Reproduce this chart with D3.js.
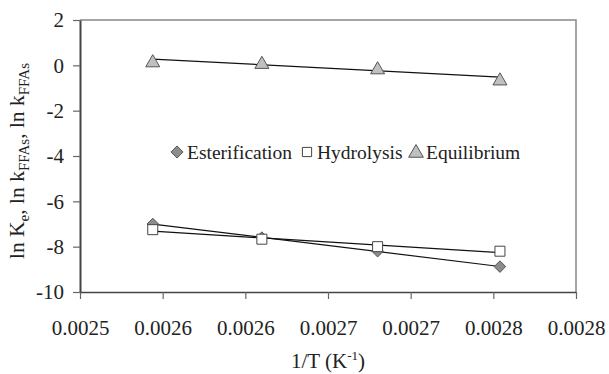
<!DOCTYPE html>
<html>
<head>
<meta charset="utf-8">
<script src="https://cdn.jsdelivr.net/npm/d3@7"></script>
<style>
  body { margin: 0; background: #fff; }
</style>
</head>
<body>
<svg id="chart"></svg>
<script>
// 1/T values (K^-1)
const invT = [0.002544, 0.002610, 0.002680, 0.002754]

// ln values per series
const esterification = [-7.0, -7.6, -8.2, -8.88]
const hydrolysis = [-7.25, -7.67, -8.0, -8.2]
const equilibrium = [0.18, 0.11, -0.13, -0.62]

const seriesNames = ["Esterification", "Hydrolysis", "Equilibrium"]

const xTickValues = [0.0025, 0.00255, 0.0026, 0.00265, 0.0027, 0.00275, 0.0028]
const xTickLabels = ["0.0025", "0.0026", "0.0026", "0.0027", "0.0027", "0.0028", "0.0028"]
const yTickValues = [2, 0, -2, -4, -6, -8, -10]

const FONT = '"Liberation Serif", "Times New Roman", Times, serif'

const width = 609, height = 374
const margin = {top: 20, right: 33, bottom: 82, left: 80}

const svg = d3.select("#chart")
  .attr("width", width)
  .attr("height", height)

const x = d3.scaleLinear()
  .domain([0.0025, 0.0028])
  .range([margin.left, width - margin.right])

const y = d3.scaleLinear()
  .domain([-10, 2])
  .range([height - margin.bottom, margin.top])

// frame (top + right)
svg.append("path")
  .attr("d", `M${x(0.0025)},${y(2)}H${x(0.0028)}V${y(-10)}`)
  .attr("fill", "none")
  .attr("stroke", "#888")
  .attr("stroke-width", 1.5)

// axes
const xAxis = g => g
  .attr("transform", `translate(0,${y(-10)})`)
  .call(d3.axisBottom(x)
    .tickValues(xTickValues)
    .tickFormat((d, i) => xTickLabels[i])
    .tickSize(7)
    .tickSizeOuter(0))
  .attr("font-family", null)
  .call(g => g.select(".domain").attr("stroke", "#444").attr("stroke-width", 1.5))
  .call(g => g.selectAll(".tick line").attr("stroke", "#666").attr("stroke-width", 1.2))
  .call(g => g.selectAll(".tick text")
    .attr("dy", "1.55em")
    .attr("fill", "#222")
    .style("font-family", FONT)
    .style("font-size", "21px"))

const yAxis = g => g
  .attr("transform", `translate(${x(0.0025)},0)`)
  .call(d3.axisLeft(y)
    .tickValues(yTickValues)
    .tickFormat(d3.format("d"))
    .tickSize(7)
    .tickSizeOuter(0))
  .attr("font-family", null)
  .call(g => g.select(".domain").attr("stroke", "#444").attr("stroke-width", 2))
  .call(g => g.selectAll(".tick line").attr("stroke", "#666").attr("stroke-width", 1.2))
  .call(g => g.selectAll(".tick text")
    .attr("x", -16)
    .attr("fill", "#222")
    .text(d => d < 0 ? "-" + Math.abs(d) : d)
    .style("font-family", FONT)
    .style("font-size", "21px"))

svg.append("g").call(xAxis)
svg.append("g").call(yAxis)
svg.selectAll(".domain").lower()

// least squares line
function fit(xs, ys) {
  const mx = d3.mean(xs), my = d3.mean(ys)
  const sxy = d3.sum(xs, (v, i) => (v - mx) * (ys[i] - my))
  const sxx = d3.sum(xs, v => (v - mx) * (v - mx))
  const b = sxy / sxx
  return v => my + b * (v - mx)
}

const seriesValues = [esterification, hydrolysis, equilibrium]
const line = d3.line().x(d => x(d[0])).y(d => y(d[1]))

seriesValues.forEach(vals => {
  const f = fit(invT, vals)
  const ends = d3.extent(invT)
  svg.append("path")
    .attr("d", line(ends.map(v => [v, f(v)])))
    .attr("fill", "none")
    .attr("stroke", "#111")
    .attr("stroke-width", 1.2)
})

// markers
const symbols = [
  {type: d3.symbolDiamond2, size: 85, fill: "#8c8c8c", stroke: "#555"},
  {type: d3.symbolSquare, size: 100, fill: "#fff", stroke: "#444"},
  {type: d3.symbolTriangle, size: 85, fill: "#c0c0c0", stroke: "#555"}
]

seriesValues.forEach((vals, s) => {
  const sym = symbols[s]
  svg.append("g")
    .selectAll("path")
    .data(vals.map((v, i) => [invT[i], v]))
    .enter().append("path")
    .attr("transform", d => `translate(${x(d[0])},${y(d[1]) + (s === 2 ? 1.5 : 0)})`)
    .attr("d", d3.symbol().type(sym.type).size(sym.size))
    .attr("fill", sym.fill)
    .attr("stroke", sym.stroke)
    .attr("stroke-width", 1)
})

// legend
const legendX = [177, 307, 416]
const legendY = 152
const legend = svg.append("g")
seriesNames.forEach((name, s) => {
  const sym = symbols[s]
  legend.append("path")
    .attr("transform", `translate(${legendX[s]},${legendY + (s === 2 ? 1 : 0)})`)
    .attr("d", d3.symbol().type(sym.type).size(s === 1 ? 85 : sym.size * 1.1))
    .attr("fill", sym.fill)
    .attr("stroke", sym.stroke)
    .attr("stroke-width", 1)
  legend.append("text")
    .attr("x", legendX[s] + 10)
    .attr("y", legendY + 7)
    .attr("fill", "#222")
    .style("font-family", FONT)
    .style("font-size", "19.5px")
    .text(name)
})

// axis titles
const xTitle = svg.append("text")
  .attr("x", (x(0.0025) + x(0.0028)) / 2)
  .attr("y", 368)
  .attr("text-anchor", "middle")
  .attr("fill", "#222")
  .style("font-family", FONT)
  .style("font-size", "21px")
xTitle.append("tspan").text("1/T (K")
xTitle.append("tspan").attr("dy", -8).style("font-size", "13px").text("-1")
xTitle.append("tspan").attr("dy", 8).text(")")

const yTitle = svg.append("text")
  .attr("transform", `translate(24,161) rotate(-90)`)
  .attr("text-anchor", "middle")
  .attr("fill", "#222")
  .style("font-family", FONT)
  .style("font-size", "21.5px")
yTitle.append("tspan").text("ln K")
yTitle.append("tspan").attr("dy", 5).style("font-size", "15px").text("e")
yTitle.append("tspan").attr("dy", -5).text(", ln k")
yTitle.append("tspan").attr("dy", 5).style("font-size", "15px").text("FFAs")
yTitle.append("tspan").attr("dy", -5).text(", ln k")
yTitle.append("tspan").attr("dy", 5).style("font-size", "15px").text("FFAs")
</script>
</body>
</html>
